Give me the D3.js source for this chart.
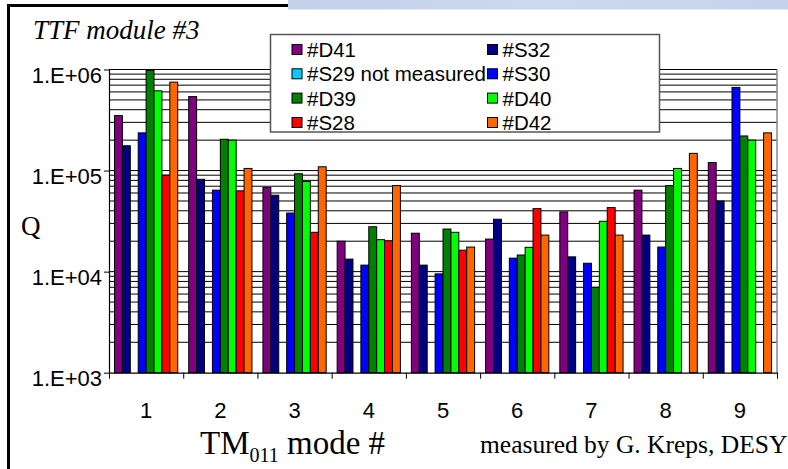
<!DOCTYPE html>
<html>
<head>
<meta charset="utf-8">
<script src="https://cdn.jsdelivr.net/npm/d3@7"></script>
<style>
  html, body { margin: 0; padding: 0; background: #fff; }
  svg { display: block; }
</style>
</head>
<body>
<svg id="chart" width="788" height="469"></svg>
<script>
// ---- data ----
const categories = ["1", "2", "3", "4", "5", "6", "7", "8", "9"];
const seriesNames = ["#D41", "#S32", "#S29 not measured", "#S30", "#D39", "#D40", "#S28", "#D42"];
const seriesColors = ["#800080", "#000080", "#00ccff", "#0000ff", "#008000", "#00ff00", "#ff0000", "#ff6600"];
const D41 = [3.5e5, 5.4e5, 6.8e4, 2.0e4, 2.4e4, 2.1e4, 3.9e4, 6.4e4, 1.2e5];
const S32 = [1.76e5, 8.2e4, 5.7e4, 1.33e4, 1.16e4, 3.3e4, 1.4e4, 2.3e4, 5.0e4];
const S29 = [null, null, null, null, null, null, null, null, null];
const S30 = [2.36e5, 6.4e4, 3.8e4, 1.16e4, 9.5e3, 1.36e4, 1.21e4, 1.75e4, 6.65e5];
const D39 = [9.8e5, 2.04e5, 9.3e4, 2.78e4, 2.64e4, 1.46e4, 7.0e3, 7.1e4, 2.2e5];
const D40 = [6.15e5, 2.0e5, 7.8e4, 2.07e4, 2.45e4, 1.74e4, 3.15e4, 1.05e5, 2.0e5];
const S28 = [9.0e4, 6.3e4, 2.45e4, 2.02e4, 1.63e4, 4.2e4, 4.3e4, null, null];
const D42 = [7.5e5, 1.05e5, 1.09e5, 7.1e4, 1.75e4, 2.3e4, 2.3e4, 1.48e5, 2.36e5];
const seriesValues = [D41, S32, S29, S30, D39, D40, S28, D42];
const yTickValues = [1e3, 1e4, 1e5, 1e6];
const yTickLabels = ["1.E+03", "1.E+04", "1.E+05", "1.E+06"];

const svg = d3.select("#chart");
const SANS = "'Liberation Sans', Arial, Helvetica, sans-serif";
const SERIF = "'Liberation Serif', 'Times New Roman', serif";

// ---- slide decoration ----
const defs = svg.append("defs");
const grad = defs.append("linearGradient").attr("id", "band").attr("x1", 0).attr("x2", 1).attr("y1", 0).attr("y2", 0);
grad.append("stop").attr("offset", "0%").attr("stop-color", "#c3d0ea");
grad.append("stop").attr("offset", "50%").attr("stop-color", "#ccd8ef");
grad.append("stop").attr("offset", "100%").attr("stop-color", "#c6d3ec");
svg.append("rect").attr("x", 288).attr("y", 0).attr("width", 500).attr("height", 9.5).attr("fill", "url(#band)");
svg.append("line").attr("x1", 7).attr("x2", 288).attr("y1", 5.5).attr("y2", 5.5).attr("stroke", "#000").attr("stroke-width", 3);
svg.append("line").attr("x1", 8.5).attr("x2", 8.5).attr("y1", 4).attr("y2", 469).attr("stroke", "#000").attr("stroke-width", 3);

// ---- scales ----
const plotLeft = 109, plotRight = 777, plotTop = 69.5, plotBottom = 372.7;
const y = d3.scaleLog().domain([1e3, 1e6]).range([plotBottom, plotTop]);
const x = d3.scaleBand().domain(categories).range([plotLeft, plotRight]).padding(0);
const xEdge = d3.scaleLinear().domain([0, categories.length]).range([plotLeft, plotRight]);
const bw = x.bandwidth();
const inner = d3.scaleBand().domain(d3.range(seriesNames.length)).range([bw * 0.074, bw * 0.926]).padding(0);

// ---- gridlines ----
const gridVals = [];
[1e3, 1e4, 1e5].forEach(d => { for (let k = 1; k <= 9; k++) if (!(d === 1e3 && k === 1)) gridVals.push(d * k); });
gridVals.push(1e6);
svg.append("g").selectAll("line").data(gridVals).join("line")
  .attr("x1", plotLeft).attr("x2", plotRight)
  .attr("y1", d => y(d)).attr("y2", d => y(d))
  .attr("stroke", "#000").attr("stroke-width", 1);

// right border of plot area
svg.append("line").attr("x1", plotRight).attr("x2", plotRight).attr("y1", plotTop).attr("y2", plotBottom)
  .attr("stroke", "#888").attr("stroke-width", 1.5);

// ---- bars ----
const barData = [];
seriesValues.forEach((vals, si) => vals.forEach((v, ci) => { if (v != null) barData.push({ si, ci, v }); }));
svg.append("g").selectAll("rect").data(barData).join("rect")
  .attr("x", d => x(categories[d.ci]) + inner(d.si))
  .attr("width", inner.bandwidth())
  .attr("y", d => y(d.v))
  .attr("height", d => plotBottom - y(d.v))
  .attr("fill", d => seriesColors[d.si])
  .attr("stroke", "#000").attr("stroke-width", 1);

// ---- axes ----
const yAxis = svg.append("g").attr("transform", `translate(${plotLeft},0)`)
  .call(d3.axisLeft(y).tickValues(yTickValues).tickFormat((d, i) => yTickLabels[i]).tickSize(5).tickSizeOuter(0).tickPadding(2));
yAxis.select(".domain").attr("stroke", "#000").attr("stroke-width", 1.2);
yAxis.selectAll(".tick line").attr("stroke", "#000");
yAxis.selectAll("text").attr("font-family", SANS).attr("font-size", 22).attr("fill", "#000").attr("dy", "0.59em");

const xTicks = svg.append("g").attr("transform", `translate(0,${plotBottom})`)
  .call(d3.axisBottom(xEdge).tickValues(d3.range(categories.length + 1)).tickFormat("").tickSize(6).tickSizeOuter(0));
xTicks.select(".domain").attr("stroke", "#000").attr("stroke-width", 1.2);
xTicks.selectAll(".tick line").attr("stroke", "#000");

const xLabels = svg.append("g").attr("transform", `translate(0,${plotBottom})`)
  .call(d3.axisBottom(x).tickSize(0).tickPadding(29.7));
xLabels.select(".domain").remove();
xLabels.selectAll("text").attr("font-family", SANS).attr("font-size", 22).attr("fill", "#000");

// ---- texts ----
svg.append("text").attr("x", 33).attr("y", 39).attr("font-family", SERIF).attr("font-style", "italic")
  .attr("font-size", 27).attr("fill", "#000").text("TTF module #3");
svg.append("text").attr("x", 21).attr("y", 235).attr("font-family", SERIF)
  .attr("font-size", 27).attr("fill", "#000").text("Q");
const xt = svg.append("text").attr("x", 200).attr("y", 454).attr("font-family", SERIF).attr("font-size", 33).attr("fill", "#000");
xt.append("tspan").text("TM");
xt.append("tspan").attr("font-size", 20).attr("dy", 8).text("011");
xt.append("tspan").attr("dy", -8).text(" mode #");
svg.append("text").attr("x", 480).attr("y", 453).attr("font-family", SERIF).attr("font-size", 25.5)
  .attr("fill", "#000").text("measured by G. Kreps, DESY");

// ---- legend ----
const lg = svg.append("g");
lg.append("rect").attr("x", 270.5).attr("y", 34.5).attr("width", 389).attr("height", 97.5)
  .attr("fill", "#fff").attr("stroke", "#555").attr("stroke-width", 1.5);
const colX = [292, 487.5];
const rowY = [57, 81.3, 105.6, 130];
const items = lg.selectAll("g.item").data(seriesNames).join("g").attr("class", "item")
  .attr("transform", (d, i) => `translate(${colX[i % 2]},${rowY[Math.floor(i / 2)]})`);
items.append("rect").attr("x", 0).attr("y", -12.5).attr("width", 10).attr("height", 10)
  .attr("fill", (d, i) => seriesColors[i]).attr("stroke", "#000").attr("stroke-width", 1);
items.append("text").attr("x", 15).attr("y", 0).attr("font-family", SANS).attr("font-size", 20.5)
  .attr("fill", "#000").text(d => d);
</script>
</body>
</html>
